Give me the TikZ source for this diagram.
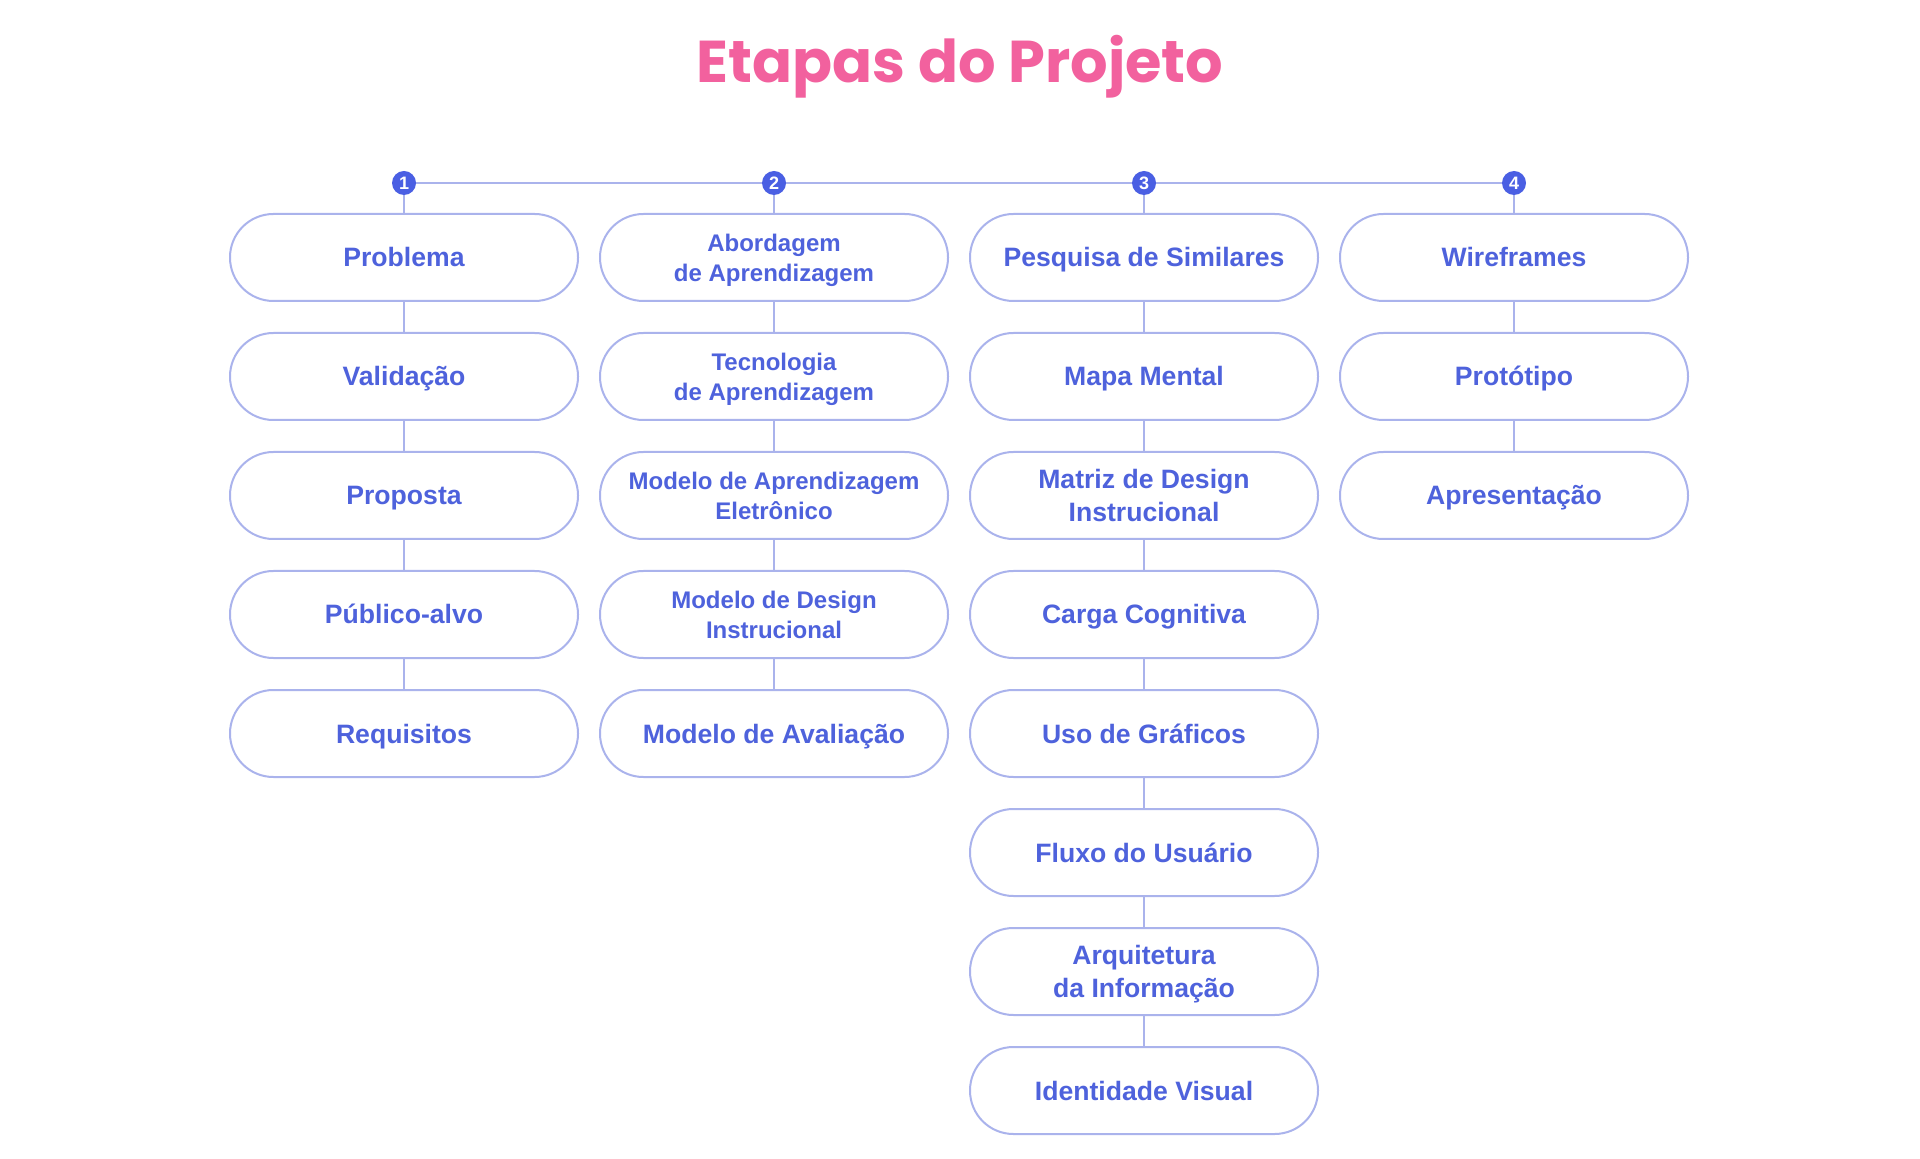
\documentclass[tikz,border=0pt]{standalone}
\usepackage{fontspec}
\setmainfont{Liberation Sans}
\newfontfamily\titlefont{Poppins}
\usepackage{xcolor}
\usepackage{tikz}
\usetikzlibrary{shapes,arrows,positioning}
\definecolor{azulTX}{HTML}{4E62DC}
\definecolor{azulNUM}{HTML}{4A5FE3}
\definecolor{lilas}{HTML}{AAB3EC}
\definecolor{rosa}{HTML}{F2619E}
\tikzstyle{pillBase} = [rectangle, draw=lilas, line width=1pt, fill=white, text=azulTX, minimum width=174pt, minimum height=43.5pt, rounded corners=21.7pt, align=center, inner sep=0pt]
\tikzstyle{pill} = [pillBase, text height=9.5pt, text depth=0pt, font=\fontsize{13.3pt}{16.75pt}\selectfont\bfseries]
\tikzstyle{pillDuo} = [pillBase, text depth=0pt, font=\fontsize{13.3pt}{16.75pt}\selectfont\bfseries]
\tikzstyle{pillSM} = [pillBase, text depth=0pt, font=\fontsize{12pt}{15pt}\selectfont\bfseries]
\tikzstyle{num} = [circle, fill=azulNUM, text=white, minimum size=12pt, inner sep=0pt, font=\fontsize{9pt}{9pt}\selectfont\bfseries]
\tikzstyle{titulo} = [anchor=base, text=rosa, font=\titlefont\bfseries\fontsize{29.5pt}{31pt}\selectfont]
\tikzstyle{line} = [draw=lilas, line width=1pt]

\begin{document}
\begin{tikzpicture}[x=0.5pt, y=-0.5pt, node distance=59.5pt]
  \useasboundingbox (0,0) rectangle (1920,1159);
  % titulo
  \node [titulo] (title) at (960,83) {Etapas do Projeto};

  % etapas
  \node [num] (n1) at (404,183) {1};
  \node [num] (n2) at (774,183) {2};
  \node [num] (n3) at (1144,183) {3};
  \node [num] (n4) at (1514,183) {4};

  % coluna 1
  \node [pill] (problema) at (404,257.5) {Problema};
  \node [pill, below of = problema] (validacao) {Validação};
  \node [pill, below of = validacao] (proposta) {Proposta};
  \node [pill, below of = proposta] (publico) {Público-alvo};
  \node [pill, below of = publico] (requisitos) {Requisitos};

  % coluna 2
  \node [pillSM] (abordagem) at (774,257.5) {Abordagem\\de Aprendizagem};
  \node [pillSM, below of = abordagem] (tecnologia) {Tecnologia\\de Aprendizagem};
  \node [pillSM, below of = tecnologia] (mod_apr) {Modelo de Aprendizagem\\Eletrônico};
  \node [pillSM, below of = mod_apr] (mod_design) {Modelo de Design\\Instrucional};
  \node [pill, below of = mod_design] (mod_aval) {Modelo de Avaliação};

  % coluna 3
  \node [pill] (pesquisa) at (1144,257.5) {Pesquisa de Similares};
  \node [pill, below of = pesquisa] (mapa) {Mapa Mental};
  \node [pillDuo, below of = mapa] (matriz) {Matriz de Design\\Instrucional};
  \node [pill, below of = matriz] (carga) {Carga Cognitiva};
  \node [pill, below of = carga] (graficos) {Uso de Gráficos};
  \node [pill, below of = graficos] (fluxo) {Fluxo do Usuário};
  \node [pillDuo, below of = fluxo] (arquitetura) {Arquitetura\\da Informação};
  \node [pill, below of = arquitetura] (identidade) {Identidade Visual};

  % coluna 4
  \node [pill] (wireframes) at (1514,257.5) {Wireframes};
  \node [pill, below of = wireframes] (prototipo) {Protótipo};
  \node [pill, below of = prototipo] (apresentacao) {Apresentação};

  % edges
  \path [line] (n1) -- (n2);
  \path [line] (n2) -- (n3);
  \path [line] (n3) -- (n4);
  \path [line] (n1) -- (problema);
  \path [line] (n2) -- (abordagem);
  \path [line] (n3) -- (pesquisa);
  \path [line] (n4) -- (wireframes);

  \path [line] (problema) -- (validacao);
  \path [line] (validacao) -- (proposta);
  \path [line] (proposta) -- (publico);
  \path [line] (publico) -- (requisitos);

  \path [line] (abordagem) -- (tecnologia);
  \path [line] (tecnologia) -- (mod_apr);
  \path [line] (mod_apr) -- (mod_design);
  \path [line] (mod_design) -- (mod_aval);

  \path [line] (pesquisa) -- (mapa);
  \path [line] (mapa) -- (matriz);
  \path [line] (matriz) -- (carga);
  \path [line] (carga) -- (graficos);
  \path [line] (graficos) -- (fluxo);
  \path [line] (fluxo) -- (arquitetura);
  \path [line] (arquitetura) -- (identidade);

  \path [line] (wireframes) -- (prototipo);
  \path [line] (prototipo) -- (apresentacao);
\end{tikzpicture}
\end{document}
